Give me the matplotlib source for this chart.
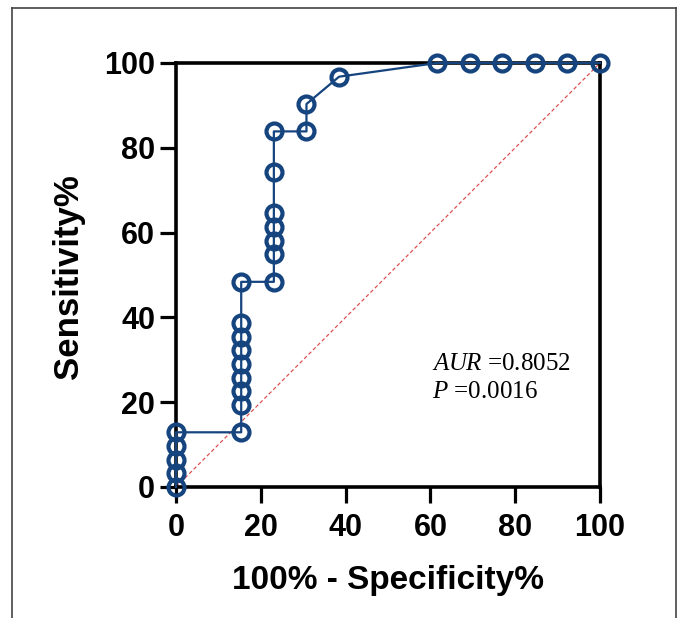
import matplotlib
matplotlib.use("Agg")
import matplotlib.pyplot as plt
from matplotlib.lines import Line2D

plt.rcParams["mathtext.fontset"] = "custom"
plt.rcParams["mathtext.it"] = "Liberation Serif:italic"
plt.rcParams["mathtext.rm"] = "Liberation Serif"

# ROC curve points (100% - Specificity%, Sensitivity%)
fpr = [0, 0, 0, 0, 0,
       15.38, 15.38, 15.38, 15.38, 15.38, 15.38, 15.38, 15.38, 15.38,
       23.08, 23.08, 23.08, 23.08, 23.08, 23.08, 23.08,
       30.77, 30.77, 38.46,
       61.54, 69.23, 76.92, 84.62, 92.31, 100]
tpr = [0, 3.23, 6.45, 9.68, 12.90,
       12.90, 19.35, 22.58, 25.81, 29.03, 32.26, 35.48, 38.71, 48.39,
       48.39, 54.84, 58.06, 61.29, 64.52, 74.19, 83.87,
       83.87, 90.32, 96.77,
       100, 100, 100, 100, 100, 100]
ticks = [0, 20, 40, 60, 80, 100]
auc_text = "0.8052"
p_text = "0.0016"

blue = "#16447F"

fig = plt.figure(figsize=(6.8, 6.18), dpi=100)
ax = fig.add_axes([176/680, 1 - 487/618, (600 - 176)/680, (487 - 63)/618])

ax.plot([0, 100], [0, 100], linestyle=(0, (3, 2)), color="#D9534F", lw=0.9, zorder=2)
ax.plot(fpr, tpr, color=blue, lw=1.6, marker="o", markersize=11.5, markeredgewidth=3.0,
        markerfacecolor="none", markeredgecolor=blue, clip_on=False, zorder=5)

ax.set_xlim(0, 100)
ax.set_ylim(0, 100)
ax.set_xticks(ticks)
ax.set_yticks(ticks)
for s in ax.spines.values():
    s.set_linewidth(2.6)
    s.set_color("black")
ax.tick_params(axis="both", which="major", length=11.5, width=2.3, direction="out",
               labelsize=22, color="black")
ax.tick_params(axis="x", pad=7)
ax.tick_params(axis="y", pad=3.5)
for lab in ax.get_xticklabels() + ax.get_yticklabels():
    lab.set_fontfamily("Liberation Sans")
    lab.set_fontweight("bold")

fig.text(68/680, 1 - 277/618, "Sensitivity%", rotation=90, ha="center", va="center",
         fontsize=25, fontweight="bold", family="Liberation Sans")
fig.text(388/680, 1 - 580/618, "100% - Specificity%", ha="center", va="center",
         fontsize=24, fontweight="bold", family="Liberation Sans")

fig.text(432/680, 1 - 370/618, r"$AUR$ =" + auc_text, ha="left", va="baseline",
         fontsize=18, family="Liberation Serif")
fig.text(432/680, 1 - 398/618, r"$P$ =" + p_text, ha="left", va="baseline",
         fontsize=18, family="Liberation Serif")

# thin frame around the figure
bc = "#444444"
fig.add_artist(Line2D([12/680, 12/680], [0, 1 - 8/618], color=bc, lw=1.2, transform=fig.transFigure))
fig.add_artist(Line2D([12/680, 676/680], [1 - 8/618, 1 - 8/618], color=bc, lw=1.2, transform=fig.transFigure))
fig.add_artist(Line2D([676/680, 676/680], [0, 1 - 8/618], color=bc, lw=1.2, transform=fig.transFigure))

fig.savefig("out.png", dpi=100)
